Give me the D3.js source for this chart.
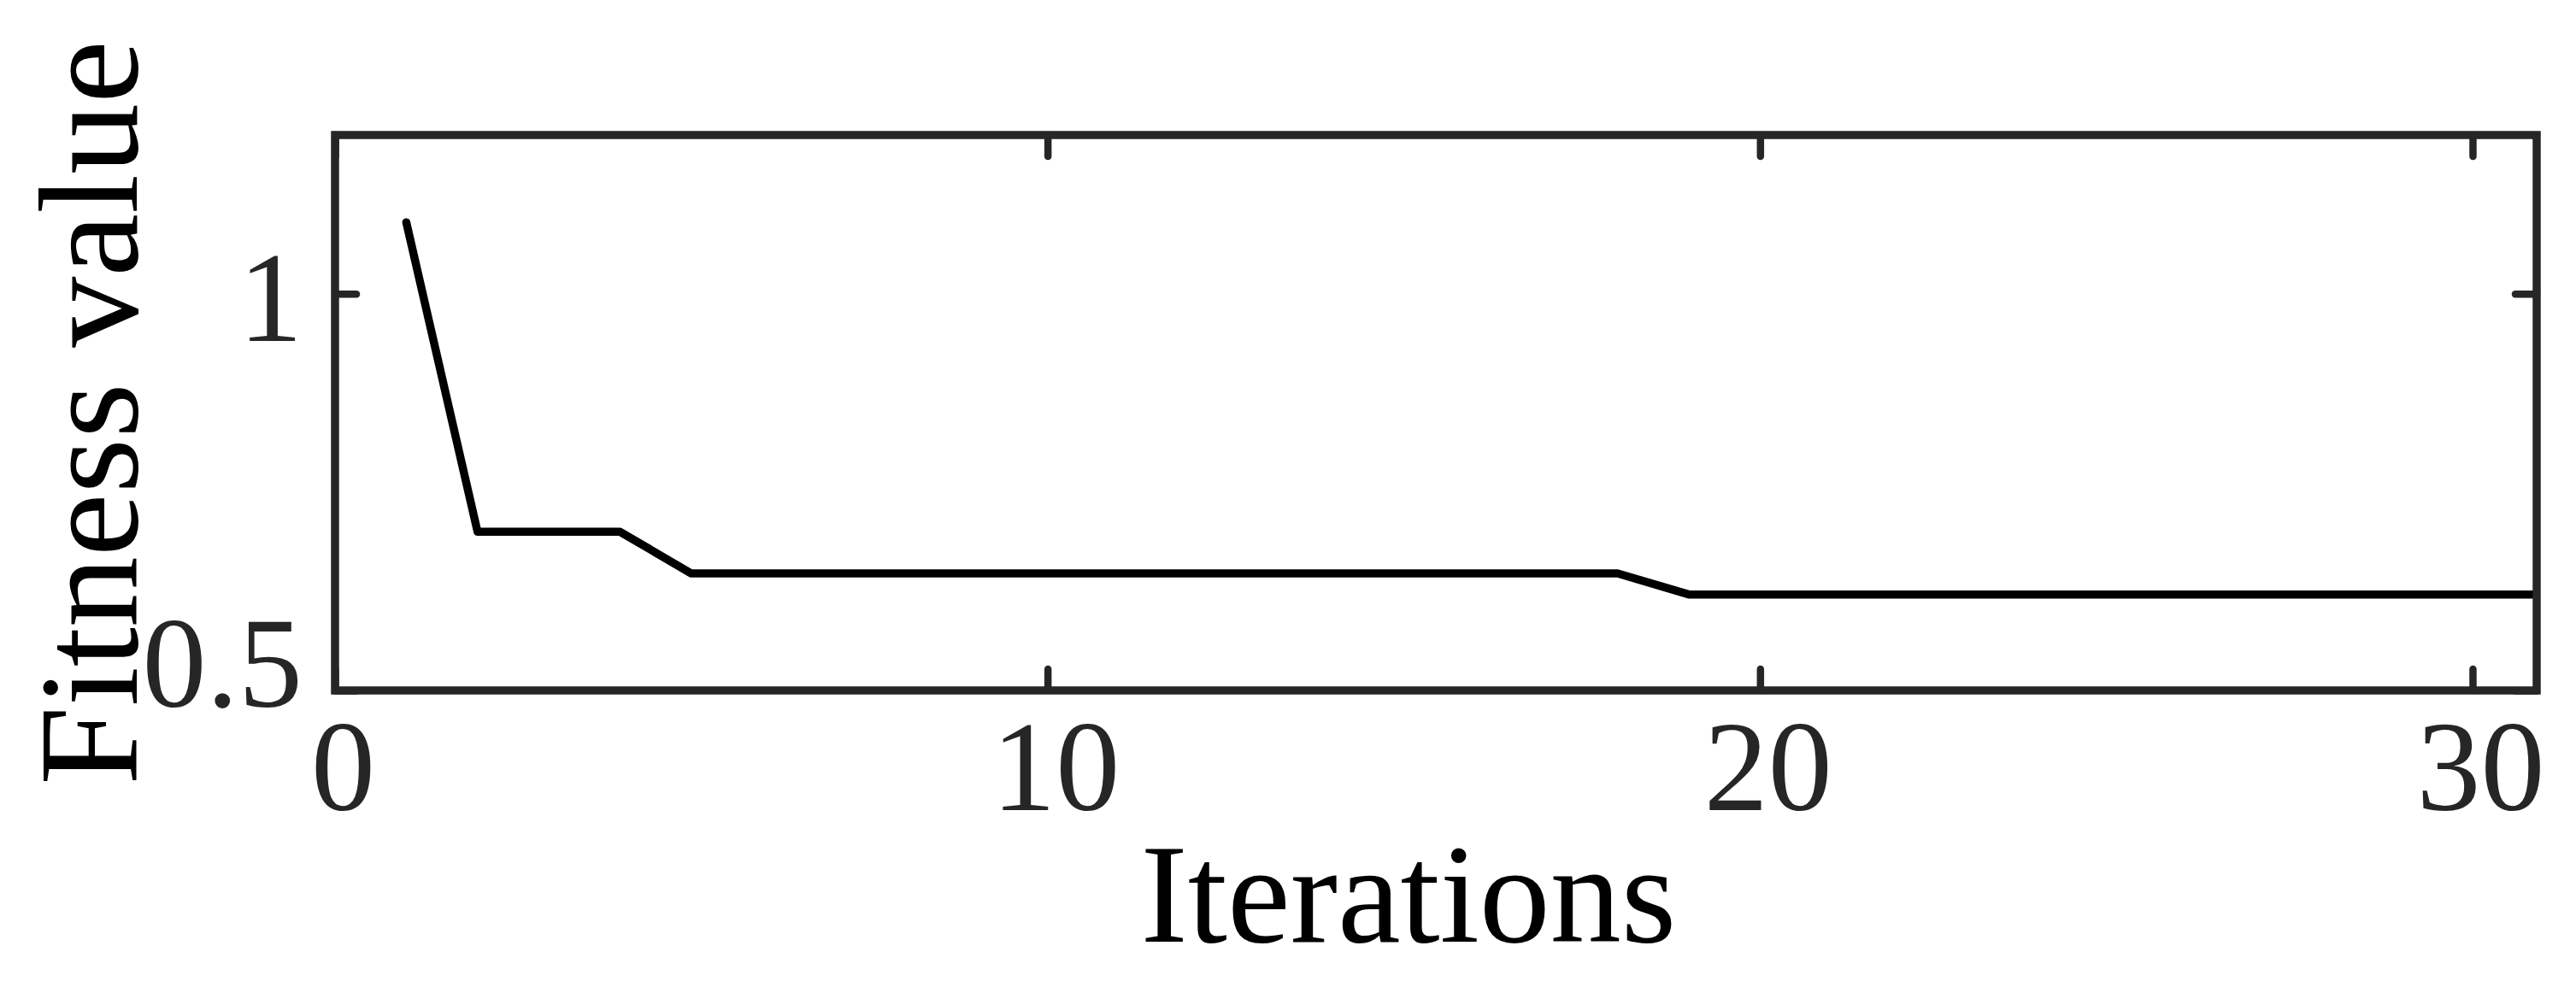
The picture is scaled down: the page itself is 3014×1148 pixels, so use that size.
<!DOCTYPE html>
<meta charset="utf-8">
<html><head>
<style>

body { margin: 0; background: #fff; }

text {
  font-family: "Liberation Serif", "Times New Roman", serif;
}

.tick text {
  font-size: 150px;
  fill: #262626;
}

.tick line {
  stroke: #262626;
  stroke-width: 8.5px;
  stroke-linecap: round;
}

.frame {
  fill: none;
  stroke: #262626;
  stroke-width: 9.5px;
}

.curve {
  fill: none;
  stroke: #000;
  stroke-width: 9.5px;
  stroke-linejoin: round;
  stroke-linecap: round;
}

.label {
  font-size: 166px;
  fill: #000;
}

</style>
</head>
<body>
<svg width="3014" height="1148"></svg>
<script src="https://d3js.org/d3.v7.min.js"></script>
<script>

// iteration number and best fitness found so far
var iterations = [1, 2, 3, 4, 5, 6, 7, 8, 9, 10, 11, 12, 13, 14, 15, 16,
                  17, 18, 19, 20, 21, 22, 23, 24, 25, 26, 27, 28, 29, 30, 31];
var fitness = [1.09, 0.70, 0.70, 0.70,
               0.6475, 0.6475, 0.6475, 0.6475, 0.6475, 0.6475, 0.6475,
               0.6475, 0.6475, 0.6475, 0.6475, 0.6475, 0.6475, 0.6475,
               0.621, 0.621, 0.621, 0.621, 0.621, 0.621, 0.621,
               0.621, 0.621, 0.621, 0.621, 0.621, 0.621];

var xTicks = [0, 10, 20, 30];
var yTicks = [0.5, 1];
var xDomain = [0, 30.9];
var yDomain = [0.5, 1.2];

var svg = d3.select("svg"),
    margin = {top: 158, right: 46, bottom: 340, left: 392},
    width = +svg.attr("width") - margin.left - margin.right,
    height = +svg.attr("height") - margin.top - margin.bottom;

svg.append("rect")
    .attr("width", 3014)
    .attr("height", 1148)
    .attr("fill", "#fff");

var g = svg.append("g")
    .attr("transform", "translate(" + margin.left + "," + margin.top + ")");

var x = d3.scaleLinear().domain(xDomain).range([0, width]);
var y = d3.scaleLinear().domain(yDomain).range([height, 0]);

svg.append("defs").append("clipPath")
    .attr("id", "plotclip")
  .append("rect")
    .attr("width", width)
    .attr("height", height);

// curve
var line = d3.line()
    .x(function(d, i) { return x(iterations[i]); })
    .y(function(d) { return y(d); });

g.append("path")
    .datum(fitness)
    .attr("class", "curve")
    .attr("clip-path", "url(#plotclip)")
    .attr("d", line);

// axes, ticks pointing inward on all four sides
var bottom = g.append("g")
    .attr("transform", "translate(0," + height + ")")
    .call(d3.axisBottom(x).tickValues(xTicks).tickSize(-25).tickFormat(d3.format("d")));
bottom.selectAll("text")
    .attr("y", 140)
    .attr("dy", null)
    .attr("dx", 9);

var top = g.append("g")
    .call(d3.axisTop(x).tickValues(xTicks).tickSize(-25).tickFormat(""));

var left = g.append("g")
    .call(d3.axisLeft(y).tickValues(yTicks).tickSize(-25).tickFormat(function(d) { return d === 1 ? "1" : d3.format(".1f")(d); }));
left.selectAll("text")
    .attr("x", -38)
    .attr("dy", null)
    .attr("y", function(d) { return d === 0.5 ? 18 : 55; });

var right = g.append("g")
    .attr("transform", "translate(" + width + ",0)")
    .call(d3.axisRight(y).tickValues(yTicks).tickSize(-25).tickFormat(""));

g.selectAll(".domain").remove();
g.selectAll(".tick text").attr("font-family", null).attr("font-size", null).attr("fill", null);

g.append("rect")
    .attr("class", "frame")
    .attr("width", width)
    .attr("height", height);

// axis titles
svg.append("text")
    .attr("class", "label")
    .attr("x", 1648)
    .attr("y", 1102)
    .attr("text-anchor", "middle")
    .text("Iterations");

svg.append("text")
    .attr("class", "label")
    .attr("transform", "translate(160," + (margin.top + height / 2) + ") rotate(-90)")
    .attr("text-anchor", "middle")
    .text("Fitness value");

</script>
</body>
</html>
